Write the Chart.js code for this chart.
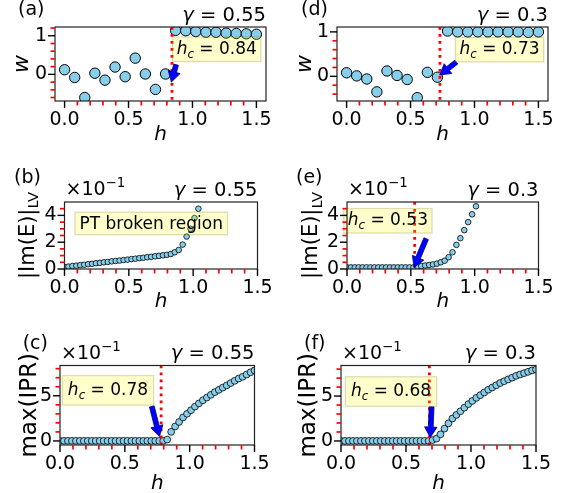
<!DOCTYPE html>
<html><head><meta charset="utf-8">
<script src="https://cdn.jsdelivr.net/npm/chart.js@4.4.1/dist/chart.umd.min.js"></script>
<style>
html,body{margin:0;padding:0;background:#fff;}
#wrap{position:relative;width:572px;height:493px;background:#fff;}
#wrap canvas{position:absolute;left:0;top:0;}
</style></head><body>
<div id="wrap">
<canvas id="pa" width="572" height="493"></canvas>
<canvas id="pb" width="572" height="493"></canvas>
<canvas id="pc" width="572" height="493"></canvas>
<canvas id="pd" width="572" height="493"></canvas>
<canvas id="pe" width="572" height="493"></canvas>
<canvas id="pf" width="572" height="493"></canvas>
</div>
<script>
// ---------------- data ----------------
const hCoarse = [0.0, 0.0789, 0.1579, 0.2368, 0.3158, 0.3947, 0.4737, 0.5526, 0.6316, 0.7105,
                 0.7895, 0.8684, 0.9474, 1.0263, 1.1053, 1.1842, 1.2632, 1.3421, 1.4211, 1.5];
const wGamma055 = [0.12, -0.08, -0.60, 0.03, -0.15, 0.19, -0.06, 0.42, 0.01, -0.39,
                   0.01, 1.14, 1.13, 1.11, 1.09, 1.09, 1.07, 1.06, 1.05, 1.04];
const wGamma030 = [0.08, 0.01, -0.06, -0.35, 0.12, 0.02, -0.07, -0.48, 0.09, -0.02,
                   1.02, 1.0, 1.0, 1.0, 1.0, 1.0, 1.0, 1.0, 0.99, 1.0];

const hFine = [0.0, 0.0306, 0.0612, 0.0918, 0.1224, 0.1531, 0.1837, 0.2143, 0.2449, 0.2755,
               0.3061, 0.3367, 0.3673, 0.3980, 0.4286, 0.4592, 0.4898, 0.5204, 0.5510, 0.5816,
               0.6122, 0.6429, 0.6735, 0.7041, 0.7347, 0.7653, 0.7959, 0.8265, 0.8571, 0.8878,
               0.9184, 0.9490, 0.9796, 1.0102, 1.0408, 1.0714, 1.1020, 1.1327, 1.1633, 1.1939,
               1.2245, 1.2551, 1.2857, 1.3163, 1.3469, 1.3776, 1.4082, 1.4388, 1.4694, 1.5];
const imEGamma055 = [0.015, 0.018, 0.022, 0.025, 0.029, 0.032, 0.036, 0.039, 0.043, 0.046,
                     0.050, 0.053, 0.057, 0.060, 0.063, 0.067, 0.070, 0.074, 0.077, 0.081,
                     0.084, 0.088, 0.091, 0.095, 0.098, 0.102, 0.106, 0.112, 0.125, 0.142,
                     0.182, 0.242, 0.300, 0.380, 0.450, 0.530];
const imEGamma030 = [0.012, 0.012, 0.012, 0.012, 0.012, 0.012, 0.012, 0.012, 0.012, 0.012,
                     0.012, 0.012, 0.012, 0.012, 0.012, 0.012, 0.012, 0.012, 0.018, 0.022,
                     0.026, 0.030, 0.034, 0.040, 0.050, 0.062, 0.088, 0.125, 0.180, 0.230,
                     0.290, 0.350, 0.408, 0.468, 0.530];
const iprGamma055 = [0.001, 0.001, 0.001, 0.001, 0.001, 0.001, 0.001, 0.001, 0.001, 0.001,
                     0.001, 0.001, 0.001, 0.001, 0.001, 0.001, 0.001, 0.001, 0.001, 0.001,
                     0.001, 0.001, 0.001, 0.001, 0.001, 0.001, 0.001, 0.015, 0.100, 0.160,
                     0.210, 0.260, 0.300, 0.340, 0.380, 0.415, 0.450, 0.480, 0.510, 0.540,
                     0.565, 0.590, 0.615, 0.640, 0.665, 0.690, 0.710, 0.735, 0.760, 0.780];
const iprGamma030 = [0.001, 0.001, 0.001, 0.001, 0.001, 0.001, 0.001, 0.001, 0.001, 0.001,
                     0.001, 0.001, 0.001, 0.001, 0.001, 0.001, 0.001, 0.001, 0.001, 0.001,
                     0.001, 0.001, 0.001, 0.010, 0.026, 0.074, 0.137, 0.196, 0.250, 0.290,
                     0.330, 0.370, 0.410, 0.445, 0.480, 0.510, 0.540, 0.570, 0.595, 0.620,
                     0.645, 0.665, 0.685, 0.705, 0.725, 0.740, 0.755, 0.770, 0.785, 0.795];

const hTickValues = [0, 0.5, 1.0, 1.5];
const hTickLabels = ['0.0', '0.5', '1.0', '1.5'];
const hMinorTicks = [0.1, 0.2, 0.3, 0.4, 0.6, 0.7, 0.8, 0.9, 1.1, 1.2, 1.3, 1.4];
const wTickValues = [0, 1];
const wTickLabels = ['0', '1'];
const wMinorTicks = [-0.6, -0.4, -0.2, 0.2, 0.4, 0.6, 0.8, 1.2];
const imETickValues = [0, 0.2, 0.4];
const imETickLabels = ['0', '2', '4'];
const imEMinorTicks = [0.05, 0.1, 0.15, 0.25, 0.3, 0.35, 0.45];
const iprTickValues = [0, 0.5];
const iprTickLabels = ['0', '5'];
const iprMinorTicks = [0.1, 0.2, 0.3, 0.4, 0.6, 0.7, 0.8];

// critical points and annotation anchors (data coordinates: [x, y])
const hcA = 0.84, hcD = 0.73, hcE = 0.53, hcC = 0.78, hcF = 0.68;
const arrowA = [[0.872, 0.25], [0.835, -0.20]];
const arrowD = [[0.858, 0.32], [0.728, 0.03]];
const arrowE = [[0.620, 0.226], [0.525, 0.012]];
const arrowC = [[0.708, 0.382], [0.767, 0.049]];
const arrowF = [[0.697, 0.380], [0.687, 0.038]];
const boxA = [1.19, 0.65], boxD = [1.196, 0.60], boxB = [0.674, 0.34];
const boxE = [0.32, 0.36], boxC = [0.37, 0.56], boxF = [0.385, 0.55];

// ---------------- drawing helpers ----------------
const FONT = '"DejaVu Sans", "Liberation Sans", sans-serif';
function fontStr(sz, it) { return (it ? 'italic ' : '') + sz + 'px ' + FONT; }
function runsWidth(ctx, runs, size) {
  let w = 0;
  for (const r of runs) { ctx.font = fontStr((r.sub || r.sup) ? size * 0.7 : size, r.it); w += ctx.measureText(r.t).width; }
  return w;
}
function drawRuns(ctx, runs, x, y, align, size) {
  const w = runsWidth(ctx, runs, size);
  let cx = align === 'right' ? x - w : align === 'center' ? x - w / 2 : x;
  ctx.textAlign = 'left'; ctx.textBaseline = 'alphabetic'; ctx.fillStyle = '#000';
  for (const r of runs) {
    const s = (r.sub || r.sup) ? size * 0.7 : size;
    ctx.font = fontStr(s, r.it);
    const dy = r.sub ? size * 0.22 : r.sup ? -size * 0.42 : 0;
    ctx.fillText(r.t, cx, y + dy);
    cx += ctx.measureText(r.t).width;
  }
  return w;
}
function drawArrow(ctx, x1, y1, x2, y2) {
  const dx = x2 - x1, dy = y2 - y1, len = Math.hypot(dx, dy);
  const ux = dx / len, uy = dy / len, px = -uy, py = ux;
  const bw = 2.4, hw = 6.2, hl = 10.5;
  const bx = x2 - ux * hl, by = y2 - uy * hl;
  ctx.beginPath();
  ctx.moveTo(x1 + px * bw, y1 + py * bw);
  ctx.lineTo(bx + px * bw, by + py * bw);
  ctx.lineTo(bx + px * hw, by + py * hw);
  ctx.lineTo(x2, y2);
  ctx.lineTo(bx - px * hw, by - py * hw);
  ctx.lineTo(bx - px * bw, by - py * bw);
  ctx.lineTo(x1 - px * bw, y1 - py * bw);
  ctx.closePath();
  ctx.fillStyle = '#0000ff'; ctx.fill();
  ctx.lineWidth = 0.8; ctx.strokeStyle = '#000070'; ctx.stroke();
}

const panelPlugin = {
  id: 'panel',
  afterDatasetsDraw(chart, args, o) {
    const ctx = chart.ctx, xs = chart.scales.x, ys = chart.scales.y, a = chart.chartArea;
    ctx.save();
    ctx.beginPath(); ctx.rect(a.left, a.top, a.right - a.left, a.bottom - a.top); ctx.clip();
    if (o.hc != null) {
      const x = xs.getPixelForValue(o.hc);
      ctx.strokeStyle = '#ff0000'; ctx.lineWidth = 2.8; ctx.setLineDash([2.8, 4.2]);
      ctx.beginPath(); ctx.moveTo(x, a.top); ctx.lineTo(x, a.bottom); ctx.stroke();
      ctx.setLineDash([]);
    }
    ctx.restore();
    ctx.save();
    if (o.arrow) {
      drawArrow(ctx, xs.getPixelForValue(o.arrow[0][0]), ys.getPixelForValue(o.arrow[0][1]),
                xs.getPixelForValue(o.arrow[1][0]), ys.getPixelForValue(o.arrow[1][1]));
    }
    if (o.box) {
      const cx = xs.getPixelForValue(o.box.at[0]), cy = ys.getPixelForValue(o.box.at[1]);
      const tw = runsWidth(ctx, o.box.runs, o.box.size);
      const w = tw + 2 * o.box.padX, h = o.box.h;
      ctx.fillStyle = 'rgba(255,255,0,0.2)';
      ctx.fillRect(cx - w / 2, cy - h / 2, w, h);
      ctx.strokeStyle = 'rgba(120,120,0,0.25)'; ctx.lineWidth = 1.3;
      ctx.strokeRect(cx - w / 2, cy - h / 2, w, h);
      drawRuns(ctx, o.box.runs, cx, cy + o.box.size * o.box.base, 'center', o.box.size);
    }
    ctx.restore();
  },
  afterDraw(chart, args, o) {
    const ctx = chart.ctx, xs = chart.scales.x, ys = chart.scales.y, a = chart.chartArea;
    ctx.save();
    // spines
    ctx.strokeStyle = '#222'; ctx.lineWidth = 1.2;
    ctx.strokeRect(a.left, a.top, a.right - a.left, a.bottom - a.top);
    // major ticks
    ctx.strokeStyle = '#000'; ctx.lineWidth = 1.4;
    for (const v of o.xMajor) { const x = xs.getPixelForValue(v); ctx.beginPath(); ctx.moveTo(x, a.bottom); ctx.lineTo(x, a.bottom + 7); ctx.stroke(); }
    for (const v of o.yMajor) { const y = ys.getPixelForValue(v); ctx.beginPath(); ctx.moveTo(a.left, y); ctx.lineTo(a.left - 7, y); ctx.stroke(); }
    // minor ticks (red)
    ctx.strokeStyle = '#ff0000'; ctx.lineWidth = 1.7;
    for (const v of o.xMinor) { if (v < xs.min || v > xs.max) continue; const x = xs.getPixelForValue(v); ctx.beginPath(); ctx.moveTo(x, a.bottom); ctx.lineTo(x, a.bottom + 4.5); ctx.stroke(); }
    for (const v of o.yMinor) { if (v < ys.min || v > ys.max) continue; const y = ys.getPixelForValue(v); ctx.beginPath(); ctx.moveTo(a.left, y); ctx.lineTo(a.left - 4.5, y); ctx.stroke(); }
    // panel tag
    drawRuns(ctx, [{ t: o.tag }], a.left + o.tagDx, a.top + o.tagDy, 'left', 19);
    // gamma title
    drawRuns(ctx, [{ t: 'γ', it: true }, { t: ' = ' + o.gamma }], a.right, a.top - 6.5, 'right', 19.5);
    // offset text
    if (o.offset) drawRuns(ctx, [{ t: '×10' }, { t: '−1', sup: true }], a.left + 1, a.top - 7, 'left', 19);
    // x label
    drawRuns(ctx, [{ t: 'h', it: true }], (a.left + a.right) / 2, a.bottom + o.xlabelDy, 'center', 20);
    // y label (rotated)
    ctx.save();
    ctx.translate(a.left + o.ylabelDx, (a.top + a.bottom) / 2);
    ctx.rotate(-Math.PI / 2);
    drawRuns(ctx, o.ylabel, 0, 0, 'center', o.ylabelSize);
    ctx.restore();
    ctx.restore();
  }
};

const hcRuns = v => [{ t: 'h', it: true }, { t: 'c', it: true, sub: true }, { t: ' = ' + v }];

const panels = [
  { id: 'pa', L: 55, T: 27, R: 266, B: 101, xs: hCoarse, ys: wGamma055, xMin: -0.075, xMax: 1.575, yMin: -0.69, yMax: 1.227,
    yT: wTickValues, yL: wTickLabels, yMinor: wMinorTicks, r: 5.2, bw: 1,
    p: { tag: '(a)', tagDx: -37, tagDy: -12, gamma: '0.55', offset: false, xlabelDy: 39,
         ylabel: [{ t: 'w', it: true }], ylabelDx: -27, ylabelSize: 22,
         hc: hcA, arrow: arrowA, box: { at: boxA, runs: hcRuns('0.84'), size: 17, padX: 4, h: 24.5, base: 0.27 } } },
  { id: 'pd', L: 337, T: 27, R: 548, B: 101, xs: hCoarse, ys: wGamma030, xMin: -0.075, xMax: 1.575, yMin: -0.555, yMax: 1.11,
    yT: wTickValues, yL: wTickLabels, yMinor: wMinorTicks, r: 5.2, bw: 1,
    p: { tag: '(d)', tagDx: -36, tagDy: -12, gamma: '0.3', offset: false, xlabelDy: 39,
         ylabel: [{ t: 'w', it: true }], ylabelDx: -26, ylabelSize: 22,
         hc: hcD, arrow: arrowD, box: { at: boxD, runs: hcRuns('0.73'), size: 17, padX: 4, h: 24.5, base: 0.27 } } },
  { id: 'pb', L: 64.5, T: 202, R: 257.5, B: 269, xs: hFine, ys: imEGamma055, xMin: 0, xMax: 1.5, yMin: 0, yMax: 0.5,
    yT: imETickValues, yL: imETickLabels, yMinor: imEMinorTicks, r: 2.8, bw: 0.8,
    p: { tag: '(b)', tagDx: -50.5, tagDy: -19, gamma: '0.55', offset: true, xlabelDy: 37.5,
         ylabel: [{ t: '|Im(E)|' }, { t: 'LV', sub: true }], ylabelDx: -31, ylabelSize: 21,
         hc: null, arrow: null, box: { at: boxB, runs: [{ t: 'PT broken region' }], size: 17, padX: 4.5, h: 22.5, base: 0.3 } } },
  { id: 'pe', L: 347, T: 202, R: 538.5, B: 269, xs: hFine, ys: imEGamma030, xMin: 0, xMax: 1.5, yMin: 0, yMax: 0.5,
    yT: imETickValues, yL: imETickLabels, yMinor: imEMinorTicks, r: 2.8, bw: 0.8,
    p: { tag: '(e)', tagDx: -51, tagDy: -19, gamma: '0.3', offset: true, xlabelDy: 37.5,
         ylabel: [{ t: '|Im(E)|' }, { t: 'LV', sub: true }], ylabelDx: -30, ylabelSize: 21,
         hc: hcE, arrow: arrowE, box: { at: boxE, runs: hcRuns('0.53'), size: 17, padX: 4, h: 24.5, base: 0.27 } } },
  { id: 'pc', L: 60, T: 365.5, R: 254.5, B: 445, xs: hFine, ys: iprGamma055, xMin: 0, xMax: 1.5, yMin: -0.045, yMax: 0.835,
    yT: iprTickValues, yL: iprTickLabels, yMinor: iprMinorTicks, r: 3.4, bw: 0.8,
    p: { tag: '(c)', tagDx: -37.3, tagDy: -16.5, gamma: '0.55', offset: true, xlabelDy: 44,
         ylabel: [{ t: 'max(IPR)' }], ylabelDx: -24, ylabelSize: 23,
         hc: hcC, arrow: arrowC, box: { at: boxC, runs: hcRuns('0.78'), size: 17, padX: 5.5, h: 29.5, base: 0.27 } } },
  { id: 'pf', L: 341, T: 365.5, R: 536, B: 445, xs: hFine, ys: iprGamma030, xMin: 0, xMax: 1.5, yMin: -0.045, yMax: 0.84,
    yT: iprTickValues, yL: iprTickLabels, yMinor: iprMinorTicks, r: 3.4, bw: 0.8,
    p: { tag: '(f)', tagDx: -37, tagDy: -16.5, gamma: '0.3', offset: true, xlabelDy: 44,
         ylabel: [{ t: 'max(IPR)' }], ylabelDx: -26, ylabelSize: 23,
         hc: hcF, arrow: arrowF, box: { at: boxF, runs: hcRuns('0.68'), size: 17, padX: 5.5, h: 29.5, base: 0.27 } } }
];

const W = 572, H = 493, YW = 40, XH = 30;
Chart.defaults.font.family = FONT;
Chart.defaults.color = '#000';

for (const P of panels) {
  const pts = P.ys.map((v, i) => ({ x: P.xs[i], y: v }));
  const opts = Object.assign({}, P.p, { xMajor: hTickValues, yMajor: P.yT, xMinor: hMinorTicks, yMinor: P.yMinor });
  new Chart(document.getElementById(P.id), {
    type: 'scatter',
    data: { datasets: [{ data: pts, pointRadius: P.r, pointHoverRadius: P.r, pointBackgroundColor: '#87ceeb',
                         pointBorderColor: '#000', pointBorderWidth: P.bw, showLine: false, clip: 0 }] },
    options: {
      responsive: false, animation: false, devicePixelRatio: 1,
      events: [],
      layout: { padding: { left: P.L - YW, top: P.T, right: W - P.R, bottom: H - P.B - XH } },
      plugins: { legend: { display: false }, tooltip: { enabled: false }, panel: opts },
      scales: {
        x: {
          type: 'linear', min: P.xMin, max: P.xMax,
          grid: { display: false, drawTicks: false }, border: { display: false },
          afterBuildTicks: s => { s.ticks = hTickValues.map(v => ({ value: v })); },
          afterFit: s => { s.height = XH; },
          ticks: { autoSkip: false, maxRotation: 0, padding: 8, color: '#000',
                   font: { size: 19, family: FONT }, callback: (v, i) => hTickLabels[i] }
        },
        y: {
          type: 'linear', min: P.yMin, max: P.yMax,
          grid: { display: false, drawTicks: false }, border: { display: false },
          afterBuildTicks: s => { s.ticks = P.yT.map(v => ({ value: v })); },
          afterFit: s => { s.width = YW; },
          ticks: { autoSkip: false, padding: 8, color: '#000',
                   font: { size: 19, family: FONT }, callback: (v, i) => P.yL[i] }
        }
      }
    },
    plugins: [panelPlugin]
  });
}
</script>
</body></html>
